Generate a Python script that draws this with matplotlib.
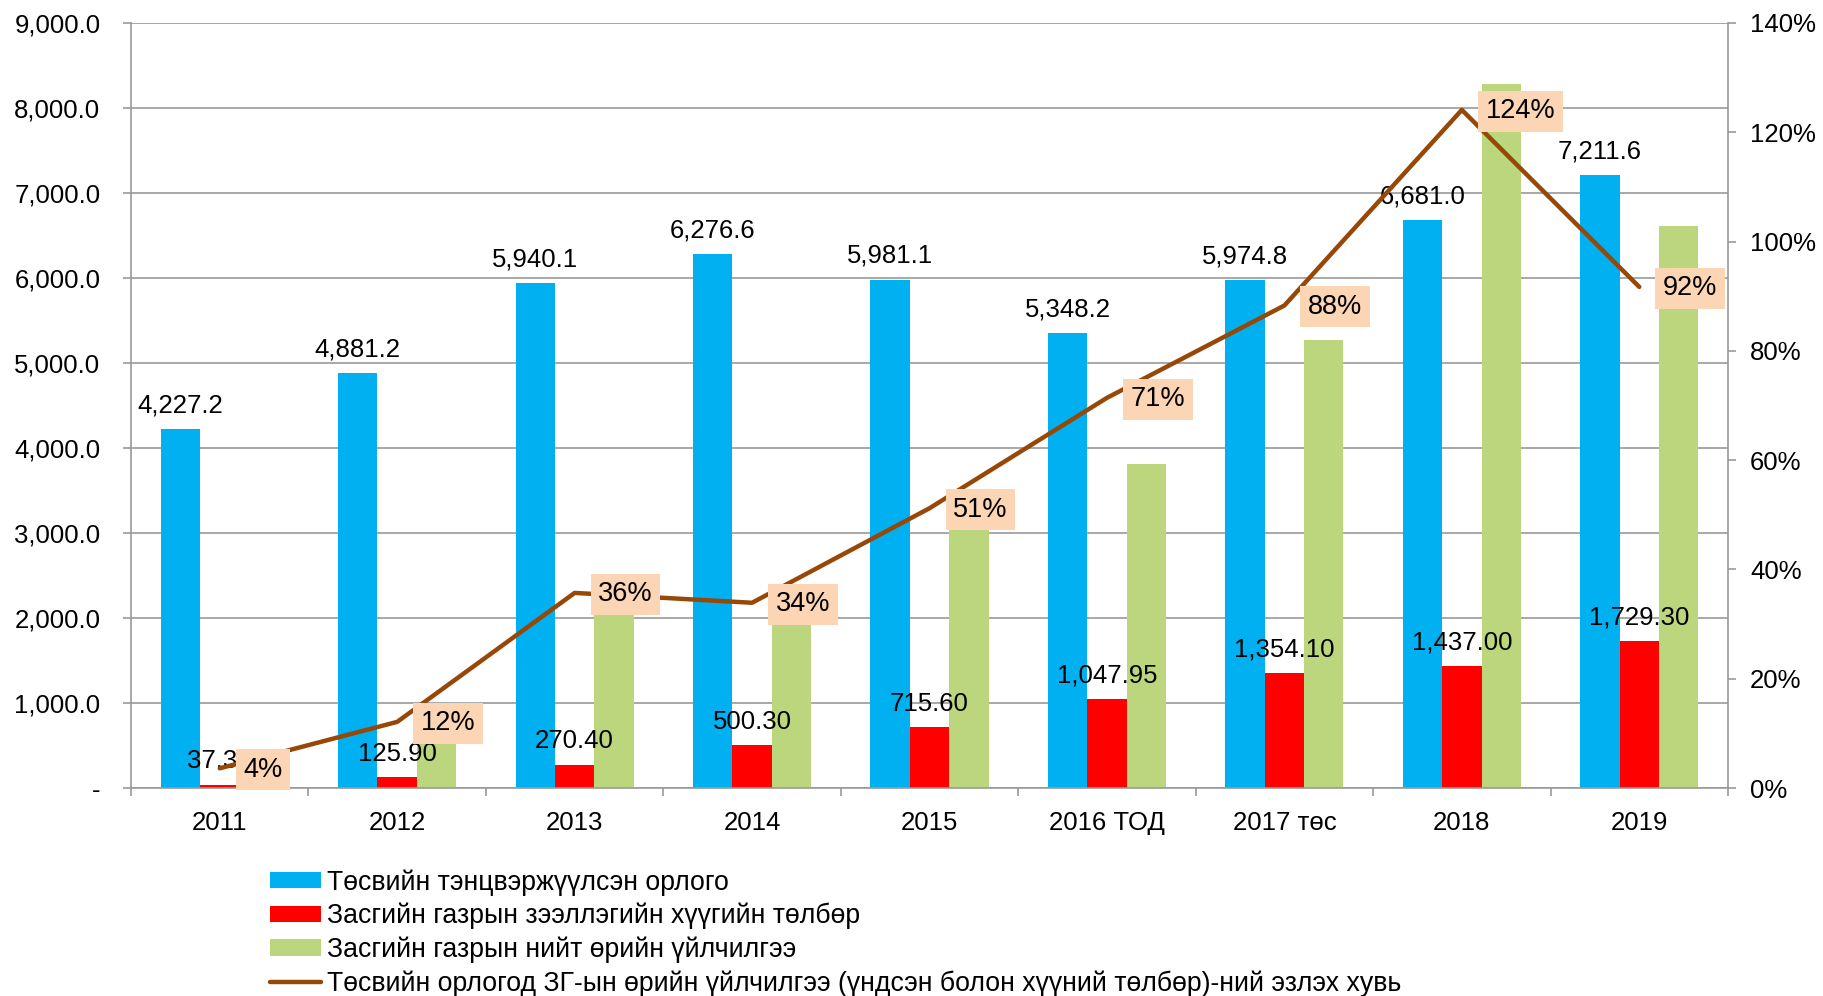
import numpy as np
import matplotlib
matplotlib.use('Agg')
import matplotlib.pyplot as plt
from matplotlib.ticker import FuncFormatter, MultipleLocator, FixedLocator

plt.rcParams['font.family'] = ['Liberation Sans', 'DejaVu Sans']

years = ['2011', '2012', '2013', '2014', '2015', '2016 ТОД', '2017 төс', '2018', '2019']
revenue = [4227.2, 4881.2, 5940.1, 6276.6, 5981.1, 5348.2, 5974.8, 6681.0, 7211.6]
interest = [37.30, 125.90, 270.40, 500.30, 715.60, 1047.95, 1354.10, 1437.00, 1729.30]
debt_service = [150, 590, 2130, 2130, 3050, 3810, 5270, 8280, 6610]
share_pct = [3.6, 12.1, 35.7, 33.9, 51.2, 71.4, 88.3, 124.1, 91.7]

lbl_revenue = 'Төсвийн тэнцвэржүүлсэн орлого'
lbl_interest = 'Засгийн газрын зээллэгийн хүүгийн төлбөр'
lbl_service = 'Засгийн газрын нийт өрийн үйлчилгээ'
lbl_share = 'Төсвийн орлогод ЗГ-ын өрийн үйлчилгээ (үндсэн болон хүүний төлбөр)-ний эзлэх хувь'

c_blue = '#00B0F0'
c_red = '#FF0000'
c_green = '#BBD67D'
c_line = '#974706'
c_box = '#FCD5B5'
c_grid = '#999999'
fs = 18.5

fig = plt.figure(figsize=(18.23, 9.96), dpi=100)
ax = fig.add_axes([131 / 1823, 208 / 996, 1597 / 1823, 765 / 996])

x = np.arange(len(years))
w = 0.222
b1 = ax.bar(x - w, revenue, w, color=c_blue, label=lbl_revenue, zorder=2)
b2 = ax.bar(x, interest, w, color=c_red, label=lbl_interest, zorder=2)
b3 = ax.bar(x + w, debt_service, w, color=c_green, label=lbl_service, zorder=2)

for xi, v in zip(x, revenue):
    ax.annotate(f'{v:,.1f}', (xi - w, v), xytext=(0, 17), textcoords='offset points',
                ha='center', va='center', fontsize=fs, zorder=3)
for xi, v in zip(x, interest):
    ax.annotate(f'{v:,.2f}', (xi, v), xytext=(0, 17), textcoords='offset points',
                ha='center', va='center', fontsize=fs, zorder=3)

ax.set_xlim(-0.5, len(years) - 0.5)
ax.set_ylim(0, 9000)
ax.yaxis.set_major_locator(MultipleLocator(1000))
ax.yaxis.set_major_formatter(FuncFormatter(lambda v, p: '-' if v == 0 else f'{v:,.1f}'))
ax.grid(axis='y', color=c_grid, lw=1.2, zorder=0)
ax.set_axisbelow(True)
ax.set_xticks(x)
ax.set_xticklabels(years)
ax.xaxis.set_minor_locator(FixedLocator(np.arange(-0.5, len(years), 1.0)))
ax.tick_params(axis='x', which='major', length=0, pad=16.5, labelsize=fs)
ax.tick_params(axis='x', which='minor', length=6, width=1.2, color=c_grid, direction='out')
ax.tick_params(axis='y', length=6, width=1.2, color=c_grid, pad=16, labelsize=fs)
for s in ['top', 'right']:
    ax.spines[s].set_visible(False)
for s in ['left', 'bottom']:
    ax.spines[s].set_color(c_grid)
    ax.spines[s].set_linewidth(1.2)

ax2 = ax.twinx()
ln, = ax2.plot(x, np.array(share_pct) / 100, color=c_line, lw=3.2, label=lbl_share,
               solid_capstyle='round', zorder=4)
ax2.set_ylim(0, 1.4)
ax2.yaxis.set_major_locator(MultipleLocator(0.2))
ax2.yaxis.set_major_formatter(FuncFormatter(lambda v, p: f'{v * 100:.0f}%'))
ax2.tick_params(axis='y', length=6, width=1.2, color=c_grid, pad=10, labelsize=fs)
for s in ['top', 'left', 'bottom']:
    ax2.spines[s].set_visible(False)
ax2.spines['right'].set_color(c_grid)
ax2.spines['right'].set_linewidth(1.2)

for xi, p in zip(x, share_pct):
    ax2.annotate(f'{p:.0f}%', (xi, p / 100), xytext=(17, -1), textcoords='offset points',
                 ha='left', va='center', fontsize=19.5, zorder=5,
                 bbox=dict(boxstyle='square,pad=0.28', fc=c_box, ec='none'))

fig.legend(handles=[b1, b2, b3, ln], loc='upper left', bbox_to_anchor=(270 / 1823, 127 / 996),
           frameon=False, fontsize=19.2, handlelength=1.9, handleheight=0.55,
           handletextpad=0.25, labelspacing=0.27, borderpad=0, borderaxespad=0)

fig.savefig('out.png', dpi=100)
